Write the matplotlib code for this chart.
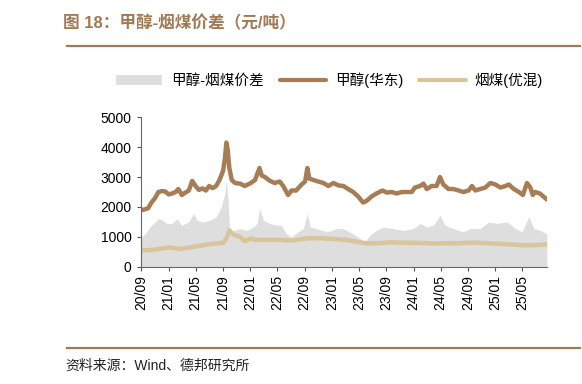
import matplotlib
matplotlib.use('Agg')

import matplotlib.pyplot as plt
import matplotlib.dates as mdates
from matplotlib.lines import Line2D
from matplotlib.patches import Patch
import pandas as pd

plt.rcParams['font.family'] = ['Liberation Sans', 'Noto Sans CJK SC']

BROWN = '#A67D55'
TAN = '#D8C59B'
GREY = '#DEDEDE'

# 甲醇(华东), 元/吨
methanol_dates = [
    '2020-09-01', '2020-09-16', '2020-10-01', '2020-10-16', '2020-11-01', '2020-11-16',
    '2020-12-01', '2020-12-16', '2021-01-01', '2021-01-16', '2021-02-01', '2021-02-13',
    '2021-03-01', '2021-03-16', '2021-04-01', '2021-04-16', '2021-05-01', '2021-05-16',
    '2021-06-01', '2021-06-16', '2021-07-01', '2021-07-16', '2021-08-01', '2021-08-16',
    '2021-09-01', '2021-09-09', '2021-09-16', '2021-09-22', '2021-09-29', '2021-10-10',
    '2021-10-25', '2021-11-16', '2021-12-07', '2022-01-03', '2022-01-22', '2022-02-11',
    '2022-02-21', '2022-03-07', '2022-03-28', '2022-04-20', '2022-05-12', '2022-05-28',
    '2022-06-19', '2022-07-04', '2022-07-25', '2022-08-18', '2022-09-03', '2022-09-13',
    '2022-09-22', '2022-10-10', '2022-11-01', '2022-11-24', '2022-12-16', '2023-01-07',
    '2023-01-30', '2023-02-21', '2023-03-14', '2023-04-06', '2023-04-28', '2023-05-20',
    '2023-06-04', '2023-06-27', '2023-07-19', '2023-08-15', '2023-09-03', '2023-09-25',
    '2023-10-17', '2023-11-09', '2023-12-01', '2023-12-24', '2024-01-07', '2024-01-30',
    '2024-02-14', '2024-02-29', '2024-03-22', '2024-04-13', '2024-04-28', '2024-05-13',
    '2024-06-05', '2024-06-27', '2024-07-20', '2024-08-11', '2024-09-03', '2024-09-18',
    '2024-10-03', '2024-10-25', '2024-11-17', '2024-12-09', '2025-01-01', '2025-01-23',
    '2025-02-15', '2025-03-02', '2025-03-24', '2025-04-16', '2025-05-04', '2025-05-22',
    '2025-06-06', '2025-06-17', '2025-06-27', '2025-07-19', '2025-08-19',
]
methanol = [
    1900, 1920, 1960, 2150, 2300, 2500,
    2530, 2520, 2420, 2450, 2500, 2600,
    2400, 2480, 2550, 2870, 2700, 2570,
    2620, 2550, 2700, 2630, 2700, 2900,
    3200, 3600, 4150, 3900, 3300, 2900,
    2800, 2780, 2700, 2800, 2900, 3300,
    3050, 3000, 2880, 2800, 2850, 2700,
    2400, 2550, 2550, 2750, 2850, 3300,
    2950, 2900, 2850, 2800, 2700, 2800,
    2720, 2700, 2600, 2500, 2350, 2150,
    2200, 2350, 2450, 2550, 2480, 2500,
    2450, 2500, 2500, 2500, 2650, 2700,
    2780, 2600, 2700, 2700, 3000, 2750,
    2600, 2600, 2550, 2500, 2550, 2700,
    2550, 2600, 2650, 2800, 2750, 2650,
    2700, 2750, 2600, 2500, 2400, 2800,
    2650, 2400, 2500, 2450, 2250,
]

# 烟煤(优混), 元/吨
coal_dates = [
    '2020-09-01', '2020-10-24', '2021-01-01', '2021-02-20', '2021-05-01', '2021-07-02',
    '2021-09-01', '2021-09-16', '2021-09-29', '2021-10-17', '2021-11-16', '2021-12-07',
    '2022-01-06', '2022-01-22', '2022-02-11', '2022-05-12', '2022-07-09', '2022-08-10',
    '2022-09-08', '2022-11-08', '2023-01-07', '2023-03-07', '2023-05-06', '2023-06-04',
    '2023-08-03', '2023-09-18', '2023-11-01', '2024-01-30', '2024-03-29', '2024-05-28',
    '2024-07-27', '2024-09-24', '2024-11-22', '2025-01-23', '2025-03-24', '2025-05-22',
    '2025-07-05', '2025-08-19',
]
coal = [
    550, 570, 650, 600, 680, 760,
    800, 950, 1220, 1080, 1000, 860,
    950, 900, 900, 900, 880, 920,
    950, 960, 930, 900, 820, 790,
    790, 820, 810, 800, 780, 790,
    790, 810, 790, 770, 740, 720,
    730, 750,
]

# 甲醇-烟煤价差, 元/吨
spread_dates = [
    '2020-09-01', '2020-09-17', '2020-10-09', '2020-11-16', '2020-12-01', '2020-12-23',
    '2021-01-15', '2021-02-07', '2021-02-28', '2021-03-31', '2021-04-23', '2021-05-08',
    '2021-06-03', '2021-07-02', '2021-08-02', '2021-08-24', '2021-09-09', '2021-09-16',
    '2021-09-24', '2021-10-01', '2021-10-17', '2021-11-16', '2021-12-16', '2022-01-15',
    '2022-01-31', '2022-02-11', '2022-03-01', '2022-03-28', '2022-04-28', '2022-05-20',
    '2022-06-11', '2022-07-04', '2022-08-03', '2022-08-26', '2022-09-13', '2022-09-25',
    '2022-10-25', '2022-12-09', '2023-01-24', '2023-02-21', '2023-04-06', '2023-04-28',
    '2023-05-28', '2023-06-20', '2023-07-19', '2023-08-18', '2023-10-02', '2023-11-16',
    '2023-12-31', '2024-01-30', '2024-02-29', '2024-03-29', '2024-04-28', '2024-05-20',
    '2024-06-27', '2024-08-11', '2024-09-11', '2024-10-25', '2024-12-02', '2025-01-08',
    '2025-02-22', '2025-04-01', '2025-04-30', '2025-05-30', '2025-06-22', '2025-07-19',
    '2025-08-19',
]
spread = [
    1000, 1100, 1330, 1600, 1580, 1450,
    1450, 1600, 1390, 1500, 1780, 1550,
    1500, 1550, 1670, 2000, 2440, 2890,
    2220, 1100, 1220, 1280, 1220, 1330,
    1450, 1940, 1550, 1450, 1390, 1390,
    1100, 1000, 1170, 1280, 1780, 1330,
    1280, 1170, 1280, 1280, 1100, 1000,
    830, 1060, 1220, 1330, 1280, 1220,
    1280, 1450, 1330, 1390, 1720, 1390,
    1280, 1170, 1280, 1280, 1500, 1450,
    1500, 1280, 1170, 1670, 1280, 1220,
    1110,
]

yticks = [0, 1000, 2000, 3000, 4000, 5000]

m_x = pd.to_datetime(methanol_dates)
c_x = pd.to_datetime(coal_dates)
s_x = pd.to_datetime(spread_dates)

fig = plt.figure(figsize=(5.82, 3.84), dpi=100)
ax = fig.add_axes([0.243, 0.305, 0.697, 0.39])

ax.fill_between(s_x, 0, spread, color=GREY, linewidth=0)
ax.plot(m_x, methanol, color=BROWN, lw=3.2, solid_capstyle='round', solid_joinstyle='round')
ax.plot(c_x, coal, color=TAN, lw=3.2, solid_capstyle='round', solid_joinstyle='round')

ax.set_ylim(0, 5000)
ax.set_yticks(yticks)
ax.set_xlim(pd.Timestamp('2020-09-01'), pd.Timestamp('2025-08-20'))
ax.xaxis.set_major_locator(mdates.MonthLocator(bymonth=[1, 5, 9]))
ax.xaxis.set_major_formatter(mdates.DateFormatter('%y/%m'))
ax.tick_params(axis='x', rotation=90, labelsize=10, length=3, color='#555555', pad=3)
ax.tick_params(axis='y', labelsize=10, length=3, color='#555555', pad=4)
for s in ['top', 'right']:
    ax.spines[s].set_visible(False)
for s in ['left', 'bottom']:
    ax.spines[s].set_color('#666666')
    ax.spines[s].set_linewidth(0.8)

handles = [
    Patch(facecolor=GREY, edgecolor='none'),
    Line2D([], [], color=BROWN, lw=3, solid_capstyle='round'),
    Line2D([], [], color=TAN, lw=3, solid_capstyle='round'),
]
labels = ['甲醇-烟煤价差', '甲醇(华东)', '烟煤(优混)']
fig.legend(handles, labels, loc='center', bbox_to_anchor=(0.566, 0.792), ncol=3,
           frameon=False, fontsize=10.5, handlelength=3.2, handleheight=0.7,
           columnspacing=1.1, handletextpad=0.6)

fig.text(0.109, 0.94, '图 18：甲醇-烟煤价差（元/吨）', color='#A07A55',
         fontsize=12, fontweight='bold', va='center', ha='left')
fig.add_artist(Line2D([0.115, 0.997], [0.879, 0.879], color='#A07A55', lw=1.6))
fig.add_artist(Line2D([0.115, 0.997], [0.094, 0.094], color='#A07A55', lw=1.6))
fig.text(0.113, 0.047, '资料来源：Wind、德邦研究所', color='#222222',
         fontsize=10, va='center', ha='left')

plt.savefig('out.png', dpi=100)
